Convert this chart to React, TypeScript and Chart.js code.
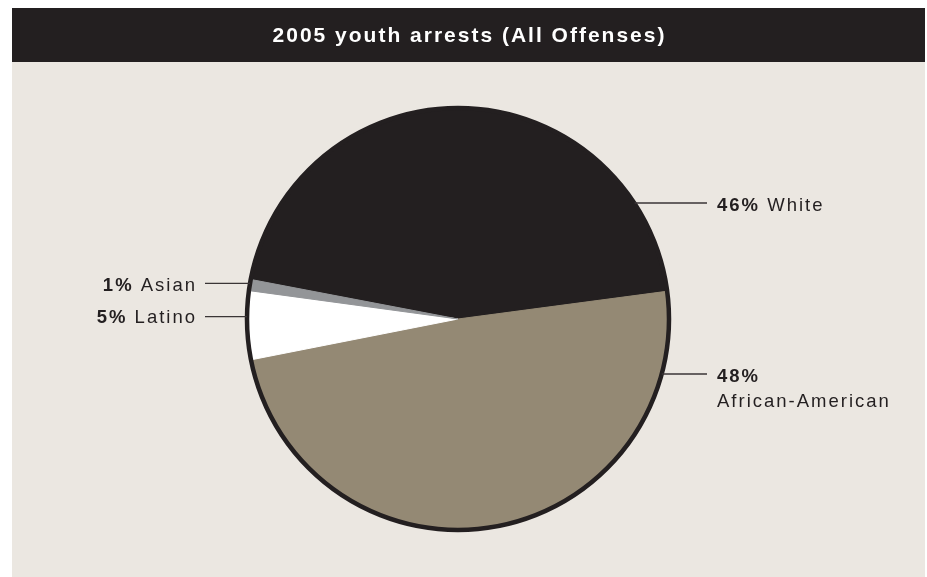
import React, { useEffect, useRef } from "react";
import { Chart, registerables } from "chart.js";

Chart.register(...registerables);

// ---- data ----
const title = "2005 youth arrests (All Offenses)";
const categories = ["White", "African-American", "Latino", "Asian"];
const shares = [44.9, 49.0, 5.25, 0.85];
const labelPercents = ["46%", "48%", "5%", "1%"];
const sliceColors = ["#231f20", "#948974", "#ffffff", "#939598"];

// ---- label layout (style config) ----
const labelSide = ["right", "right", "left", "left"];
const labelLineY = [203, 374, 316.7, 283.3];
const labelBaseY = [211, 382, 323.3, 291];
const labelSplit = [false, true, false, false];

const W = 927;
const H = 577;
const DARK = "#231f20";
const PANEL = "#ebe7e1";
const FONT_FAMILY = "'Liberation Sans', Arial, Helvetica, sans-serif";
const LS = 2;

function drawRuns(ctx: CanvasRenderingContext2D, runs: { text: string; font: string }[], x: number, y: number, align: "left" | "right") {
  const widths = runs.map((r) => {
    ctx.font = r.font;
    return ctx.measureText(r.text).width;
  });
  const total = widths.reduce((a, b) => a + b, 0);
  let cx = align === "right" ? x - total + LS : x;
  ctx.textAlign = "left";
  runs.forEach((r, i) => {
    ctx.font = r.font;
    ctx.fillText(r.text, cx, y);
    cx += widths[i];
  });
}

const decor = {
  id: "decor",
  beforeDraw(chart: any) {
    const ctx: CanvasRenderingContext2D = chart.ctx;
    ctx.save();
    ctx.fillStyle = PANEL;
    ctx.fillRect(12, 62, 913, H - 62);
    ctx.fillStyle = DARK;
    ctx.fillRect(12, 8, 913, 54);
    ctx.fillStyle = "#ffffff";
    (ctx as any).letterSpacing = "2px";
    ctx.font = `bold 21px ${FONT_FAMILY}`;
    ctx.textAlign = "center";
    ctx.textBaseline = "alphabetic";
    ctx.fillText(title, 469.5, 42);
    ctx.restore();
  },
  afterDatasetsDraw(chart: any) {
    const ctx: CanvasRenderingContext2D = chart.ctx;
    const arc = chart.getDatasetMeta(0).data[0];
    const cx = arc.x;
    const cy = arc.y;
    const r = arc.outerRadius + 0.5;
    ctx.save();
    ctx.beginPath();
    ctx.arc(cx, cy, r, 0, Math.PI * 2);
    ctx.lineWidth = 4.5;
    ctx.strokeStyle = DARK;
    ctx.stroke();

    const edgeR = r + 2;
    ctx.fillStyle = DARK;
    ctx.strokeStyle = "#3a3536";
    ctx.lineWidth = 1.3;
    (ctx as any).letterSpacing = `${LS}px`;
    ctx.textBaseline = "alphabetic";
    const bold = `bold 18.5px ${FONT_FAMILY}`;
    const reg = `18.5px ${FONT_FAMILY}`;
    categories.forEach((cat, i) => {
      const ly = labelLineY[i];
      const dy = ly - cy;
      const dx = Math.sqrt(Math.max(edgeR * edgeR - dy * dy, 0));
      ctx.beginPath();
      if (labelSide[i] === "right") {
        ctx.moveTo(cx + dx - 2, ly);
        ctx.lineTo(707, ly);
      } else {
        ctx.moveTo(205, ly);
        ctx.lineTo(cx - dx + 2, ly);
      }
      ctx.stroke();
      const by = labelBaseY[i];
      if (labelSide[i] === "right") {
        if (labelSplit[i]) {
          drawRuns(ctx, [{ text: labelPercents[i], font: bold }], 717, by, "left");
          drawRuns(ctx, [{ text: cat, font: reg }], 717, by + 25, "left");
        } else {
          drawRuns(ctx, [{ text: labelPercents[i], font: bold }, { text: " " + cat, font: reg }], 717, by, "left");
        }
      } else {
        drawRuns(ctx, [{ text: labelPercents[i], font: bold }, { text: " " + cat, font: reg }], 195, by, "right");
      }
    });
    ctx.restore();
  },
};

export default function App() {
  const ref = useRef<HTMLCanvasElement | null>(null);
  useEffect(() => {
    if (!ref.current) return;
    const chart = new Chart(ref.current, {
      type: "pie",
      data: {
        labels: categories,
        datasets: [
          {
            data: shares,
            backgroundColor: sliceColors,
            borderColor: sliceColors,
            borderWidth: 1,
          },
        ],
      },
      options: {
        responsive: false,
        animation: false,
        rotation: -79.2,
        layout: { padding: { left: 247, right: 258, top: 108, bottom: 47 } },
        plugins: {
          legend: { display: false },
          tooltip: { enabled: false },
          title: { display: false },
        },
      },
      plugins: [decor],
    });
    return () => chart.destroy();
  }, []);
  return (
    <div style={{ position: "fixed", left: 0, top: 0, width: W, height: H, background: "#ffffff" }}>
      <canvas ref={ref} width={W} height={H} style={{ display: "block", width: W, height: H }} />
    </div>
  );
}
